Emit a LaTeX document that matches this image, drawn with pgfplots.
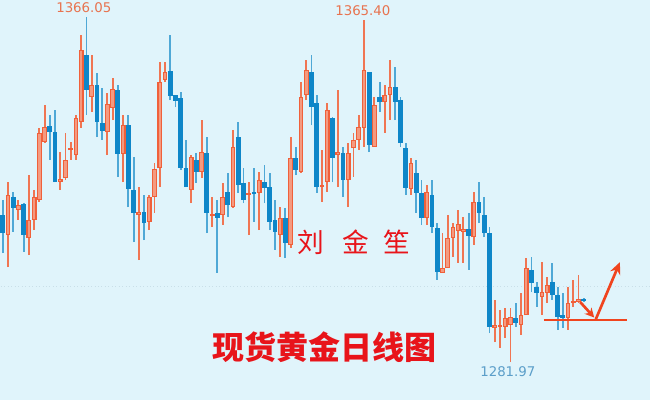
\documentclass[border=0pt]{standalone}
\usepackage{pgfplots}
\pgfplotsset{compat=1.18}
\usepackage{pgfplotstable}
\usepackage{fontspec}
\setmainfont{DejaVu Sans}
\newfontfamily\cjk{Noto Sans CJK SC}
\usetikzlibrary{arrows.meta}

\definecolor{bg}{HTML}{E0F4FB}
\definecolor{upline}{HTML}{F0603A}
\definecolor{upfill}{HTML}{F49A80}
\definecolor{upwick}{HTML}{F07552}
\definecolor{dnbody}{HTML}{0E86C8}
\definecolor{dnwick}{HTML}{4FA8D6}
\definecolor{hiclr}{HTML}{E8734F}
\definecolor{loclr}{HTML}{5B9EC9}
\definecolor{txtred}{HTML}{E8141A}
\definecolor{arrowred}{HTML}{F0441E}
\definecolor{faint}{HTML}{C9DFE8}

% daily candles: x = day index, open high low close
\pgfplotstableread{
x o h l c
1 1312.9 1325.8 1305.1 1322.7
3 1319.0 1321.5 1316.6 1320.2
5 1312.2 1327.5 1308.0 1316.6
6 1316.6 1323.9 1314.1 1322.2
7 1321.5 1339.0 1321.0 1337.8
8 1335.6 1344.6 1335.3 1339.2
11 1325.8 1333.1 1323.9 1326.6
12 1326.8 1337.8 1326.3 1331.2
13 1333.6 1335.6 1331.2 1334.1
14 1332.4 1342.2 1331.2 1341.4
15 1340.5 1361.7 1339.0 1358.0
17 1346.6 1356.8 1342.9 1349.5
20 1338.0 1347.5 1332.4 1344.8
21 1343.9 1351.2 1340.9 1348.5
23 1332.7 1342.2 1325.8 1339.7
26 1317.8 1324.6 1306.8 1318.5
28 1316.1 1322.7 1314.1 1322.2
29 1322.2 1330.5 1318.3 1329.0
30 1329.2 1355.1 1324.6 1350.2
31 1350.7 1355.1 1350.2 1352.6
36 1323.9 1332.4 1320.7 1331.9
38 1328.3 1340.9 1326.8 1333.1
40 1317.5 1322.2 1314.9 1318.0
42 1317.8 1325.6 1315.4 1322.2
44 1319.7 1338.5 1319.5 1334.4
47 1322.7 1325.8 1312.9 1323.2
49 1323.2 1328.3 1314.1 1326.3
53 1312.9 1319.7 1307.6 1317.1
55 1310.5 1336.8 1309.8 1331.7
57 1328.3 1350.2 1328.0 1346.6
58 1347.0 1355.6 1345.8 1353.1
61 1324.6 1333.6 1321.0 1325.1
62 1325.8 1345.1 1323.4 1343.4
64 1332.4 1348.3 1324.6 1333.1
66 1326.3 1335.3 1319.7 1332.9
67 1334.1 1337.8 1327.1 1336.1
68 1336.1 1342.2 1333.6 1339.2
69 1339.0 1365.4 1334.4 1353.1
71 1334.4 1346.6 1334.4 1344.6
73 1345.3 1349.5 1337.8 1347.0
74 1347.0 1355.6 1340.9 1349.0
78 1324.1 1331.7 1322.7 1330.5
81 1317.1 1325.1 1315.4 1323.4
84 1303.7 1313.4 1303.7 1304.9
85 1304.9 1317.8 1304.9 1312.2
86 1312.2 1315.8 1307.6 1314.9
87 1313.9 1319.0 1306.1 1315.6
88 1313.7 1317.3 1306.1 1314.4
90 1312.4 1323.4 1310.5 1321.0
94 1290.3 1297.1 1286.8 1291.0
95 1290.5 1294.6 1285.4 1291.0
96 1290.5 1295.1 1287.8 1292.7
97 1291.0 1295.1 1281.97 1292.9
99 1291.0 1298.8 1288.6 1293.4
100 1293.4 1307.3 1293.4 1304.9
103 1297.8 1306.3 1293.4 1299.0
104 1298.8 1302.7 1296.4 1300.7
108 1292.7 1300.3 1289.8 1296.4
109 1296.4 1302.0 1295.4 1296.8
110 1296.6 1303.2 1296.4 1297.3
}\up

\pgfplotstableread{
x o h l c
0 1317.8 1321.5 1308.5 1313.4
2 1322.2 1323.4 1313.7 1319.5
4 1320.5 1320.7 1308.8 1312.9
9 1339.5 1342.2 1331.2 1338.0
10 1338.0 1343.4 1325.8 1325.8
16 1356.8 1366.05 1342.2 1348.3
18 1349.5 1352.4 1336.8 1340.5
19 1340.2 1348.7 1336.1 1338.3
22 1348.3 1349.5 1327.1 1332.7
24 1339.7 1342.2 1319.7 1324.1
25 1323.9 1331.9 1311.2 1318.3
27 1318.5 1322.7 1311.7 1315.8
32 1352.9 1361.7 1345.8 1346.8
33 1347.0 1347.0 1344.1 1345.6
34 1346.3 1347.8 1328.8 1329.2
35 1329.2 1336.1 1324.6 1324.6
37 1331.2 1332.9 1325.6 1328.3
39 1332.9 1336.8 1313.4 1318.3
41 1318.3 1321.5 1303.7 1317.1
43 1323.4 1328.0 1317.3 1320.2
45 1336.8 1340.5 1323.2 1325.1
46 1325.6 1329.2 1320.7 1321.5
48 1323.4 1329.2 1316.1 1322.9
50 1325.8 1330.0 1320.7 1324.4
51 1324.6 1328.0 1314.1 1316.1
52 1316.6 1321.5 1309.3 1313.7
54 1317.1 1319.5 1307.3 1311.0
56 1331.7 1334.4 1327.5 1328.8
59 1352.6 1356.8 1339.7 1344.1
60 1345.1 1347.0 1323.2 1324.6
63 1341.4 1341.7 1325.8 1331.7
65 1332.9 1334.4 1322.2 1326.3
70 1352.6 1352.6 1333.1 1334.9
72 1346.6 1350.2 1342.9 1345.3
75 1349.0 1353.9 1340.9 1345.3
76 1345.8 1346.6 1334.4 1335.3
77 1334.1 1335.3 1322.7 1324.4
79 1328.0 1331.2 1318.3 1323.2
80 1323.2 1326.3 1315.4 1317.1
82 1322.7 1326.3 1313.4 1314.9
83 1314.6 1315.8 1302.0 1303.9
89 1314.4 1318.3 1304.4 1312.7
91 1321.0 1325.8 1315.8 1318.3
92 1317.8 1322.2 1312.4 1313.4
93 1313.4 1314.9 1289.0 1290.5
98 1292.7 1296.4 1290.5 1291.5
101 1304.4 1307.6 1299.0 1301.2
102 1300.3 1301.5 1295.4 1298.8
105 1301.5 1306.1 1297.1 1298.3
106 1298.3 1300.3 1289.8 1292.9
107 1293.4 1298.8 1290.3 1292.7
111 1297.3 1297.6 1296.6 1296.8
}\down

\begin{document}
\begin{tikzpicture}
\begin{axis}[
  scale only axis,
  width=487.5pt, height=300pt,
  xmin=-0.516, xmax=123.65,
  ymin=1272.71, ymax=1370.19,
  axis background/.style={fill=bg},
  axis line style={draw=none},
  xtick=\empty, ytick=\empty,
  candle/.style={draw=none, forget plot,
    error bars/.cd, y dir=plus, y explicit, error mark=none},
]
% faint level line
\addplot[faint, dotted, line width=0.6pt] coordinates {(-1,1300.3) (124,1300.3)};

% wicks
\addplot[candle, error bar style={draw=upwick, line width=1.4pt}]
  table[x=x, y=l, y error expr=\thisrow{h}-\thisrow{l}] {\up};
\addplot[candle, error bar style={draw=dnwick, line width=1.4pt}]
  table[x=x, y=l, y error expr=\thisrow{h}-\thisrow{l}] {\down};

% bodies
\addplot[candle, error bar style={draw=upline, line width=3.6pt}]
  table[x=x, y=o, y error expr=\thisrow{c}-\thisrow{o}] {\up};
\addplot[candle, error bar style={draw=upfill, line width=1.8pt}]
  table[x=x, y expr=\thisrow{o}+0.25, y error expr={max(\thisrow{c}-\thisrow{o}-0.5,0)}] {\up};
\addplot[candle, error bar style={draw=dnbody, line width=3.6pt}]
  table[x=x, y=c, y error expr=\thisrow{o}-\thisrow{c}] {\down};

% support line and arrows
\addplot[arrowred, line width=2pt] coordinates {(103.4,1292.2) (119.3,1292.2)};
\addplot[arrowred, line width=2pt, -{Stealth[length=7pt,width=7pt]}]
  coordinates {(110.3,1296.6) (113.0,1292.8)};
\addplot[arrowred, line width=2pt, -{Stealth[length=9pt,width=8pt]}]
  coordinates {(113.3,1292.4) (117.9,1306.3)};

% price labels
\node[text=hiclr, font=\fontsize{10}{11}\selectfont] at (axis cs:15.5,1368.3) {1366.05};
\node[text=hiclr, font=\fontsize{10}{11}\selectfont] at (axis cs:68.8,1367.5) {1365.40};
\node[text=loclr, font=\fontsize{10}{11}\selectfont] at (axis cs:96.5,1279.5) {1281.97};

% watermark texts
\node[text=txtred, font=\cjk\fontsize{20}{22}\selectfont] at (axis cs:58.9,1311.2) {刘};
\node[text=txtred, font=\cjk\fontsize{20}{22}\selectfont] at (axis cs:67.5,1311.2) {金};
\node[text=txtred, font=\cjk\fontsize{20}{22}\selectfont] at (axis cs:75.3,1311.2) {笙};
\node[text=txtred, font=\cjk\bfseries\fontsize{24}{26}\selectfont] at (axis cs:61.5,1285.6) {现货黄金日线图};
\end{axis}
\end{tikzpicture}
\end{document}
